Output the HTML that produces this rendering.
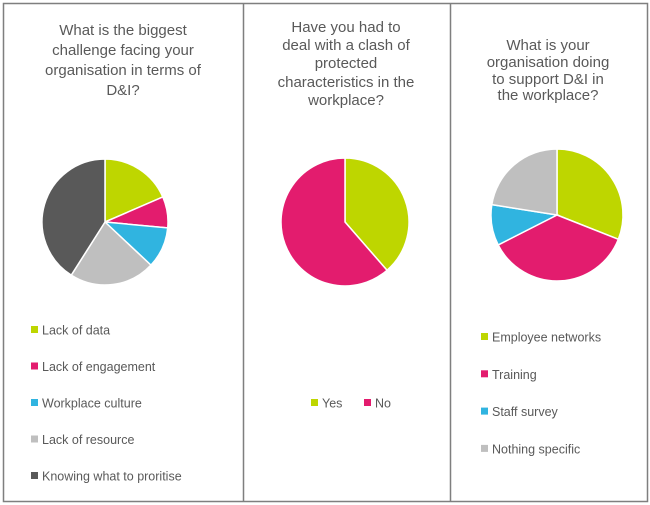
<!DOCTYPE html>
<html><head><meta charset="utf-8"><style>
html,body{margin:0;padding:0;background:#fff;}
svg{display:block;font-family:"Liberation Sans",sans-serif;}
.t{fill:#595959;font-size:15px;text-anchor:middle;}
.l{fill:#595959;font-size:12.5px;}
</style></head><body>
<svg id="c" width="650" height="505" viewBox="0 0 650 505">
<rect x="3.5" y="3.5" width="644" height="498" fill="none" stroke="#7f7f7f" stroke-width="1.5"/>
<line x1="243.5" y1="3" x2="243.5" y2="502" stroke="#7f7f7f" stroke-width="1.5"/>
<line x1="450.5" y1="3" x2="450.5" y2="502" stroke="#7f7f7f" stroke-width="1.5"/>
<g>
<text class="t" x="123" y="35">What is the biggest</text>
<text class="t" x="123" y="55">challenge facing your</text>
<text class="t" x="123" y="75">organisation in terms of</text>
<text class="t" x="123" y="95">D&amp;I?</text>
</g>
<g>
<text class="t" x="346" y="32">Have you had to</text>
<text class="t" x="346" y="50">deal with a clash of</text>
<text class="t" x="346" y="68">protected</text>
<text class="t" x="346" y="87">characteristics in the</text>
<text class="t" x="346" y="105">workplace?</text>
</g>
<g>
<text class="t" x="548" y="50">What is your</text>
<text class="t" x="548" y="67">organisation doing</text>
<text class="t" x="548" y="84">to support D&amp;I in</text>
<text class="t" x="548" y="100">the workplace?</text>
</g>
</svg>
<script>
const cats1 = ["Lack of data","Lack of engagement","Workplace culture","Lack of resource","Knowing what to proritise"];
const vals1 = [18.5, 8, 10.5, 22, 41];
const cats2 = ["Yes","No"];
const vals2 = [38.6, 61.4];
const cats3 = ["Employee networks","Training","Staff survey","Nothing specific"];
const vals3 = [31, 36.5, 10, 22.5];
const colors = ["#bed600","#e31c6e","#30b4e0","#bfbfbf","#595959"];
const svg = document.getElementById('c');
const NS = "http://www.w3.org/2000/svg";
function pie(cx, cy, r, cats, vals, prefix){
  const total = vals.reduce((a,b)=>a+b,0);
  let a0 = 0;
  const g = document.createElementNS(NS,'g');
  
  
  svg.appendChild(g);
  vals.forEach((v,i)=>{
    const a1 = a0 + v/total*2*Math.PI;
    const x0 = cx + r*Math.sin(a0), y0 = cy - r*Math.cos(a0);
    const x1 = cx + r*Math.sin(a1), y1 = cy - r*Math.cos(a1);
    const large = (a1-a0) > Math.PI ? 1 : 0;
    const p = document.createElementNS(NS,'path');
    p.setAttribute('d', `M${cx},${cy} L${x0},${y0} A${r},${r} 0 ${large} 1 ${x1},${y1} Z`);
    p.setAttribute('fill', colors[i]);
    p.setAttribute('stroke', '#fff');
    p.setAttribute('stroke-width', '1.5');
    
    
    g.appendChild(p);
    a0 = a1;
  });
}
function legend(items, positions, prefix){
  items.forEach((c,i)=>{
    const [x,y] = positions[i];
    const r = document.createElementNS(NS,'rect');
    r.setAttribute('x', x); r.setAttribute('y', y-4);
    r.setAttribute('width', 7); r.setAttribute('height', 7);
    r.setAttribute('fill', colors[i]);
    
    
    svg.appendChild(r);
    const t = document.createElementNS(NS,'text');
    t.setAttribute('x', x+11); t.setAttribute('y', y+4.5);
    t.setAttribute('class','l');
    t.textContent = c;
    
    
    svg.appendChild(t);
  });
}
pie(105, 222, 63, cats1, vals1, 'chart1');
pie(345, 222, 64, cats2, vals2, 'chart2');
pie(557, 215, 66, cats3, vals3, 'chart3');
legend(cats1, cats1.map((_,i)=>[31, 330 + i*36.5]), 'chart1');
legend(cats2, [[311,403],[364,403]], 'chart2');
legend(cats3, cats3.map((_,i)=>[481, 337 + i*37.3]), 'chart3');
</script>
</body></html>
